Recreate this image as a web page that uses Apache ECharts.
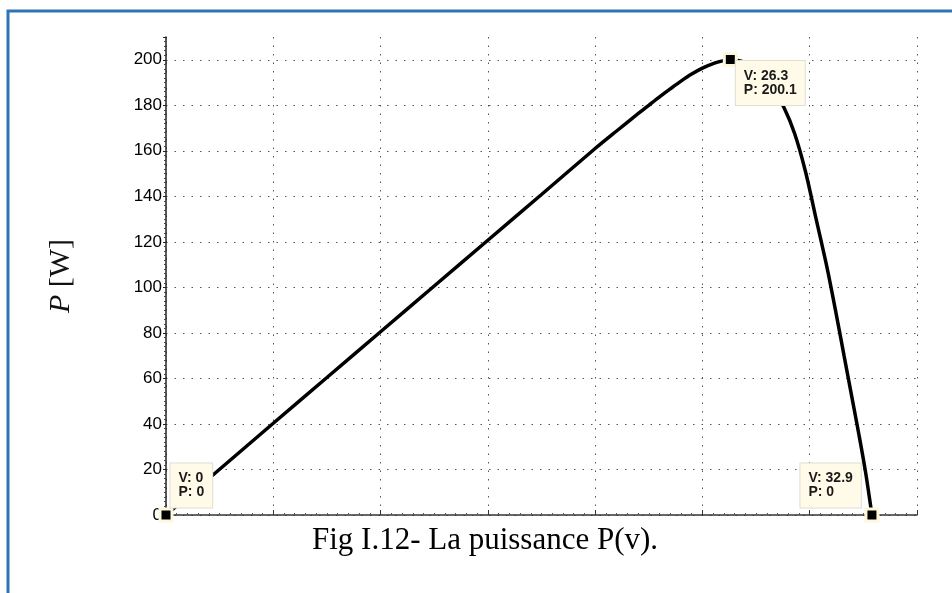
<!DOCTYPE html>
<html>
<head>
<meta charset="utf-8">
<title>Fig I.12 - La puissance P(v)</title>
<script src="https://cdn.jsdelivr.net/npm/echarts@6/dist/echarts.min.js"></script>
<style>
  html, body { margin: 0; padding: 0; background: #fff; }
  #chart { width: 952px; height: 593px; }
</style>
</head>
<body>
<div id="chart"></div>
<script>
// P-V curve
var voltage = [0, 2.5, 5, 7.5, 10, 12.5, 15, 17.5, 20, 21, 22, 22.5, 23, 23.5, 24, 24.5, 25, 25.5, 26, 26.3,
               26.8, 27.3, 27.8, 28.3, 28.8, 29.3, 29.8, 30.3, 30.8, 31.2, 31.6, 32, 32.3, 32.6, 32.9];
var power   = [0, 20.1, 40.3, 60.4, 80.5, 100.6, 120.7, 140.8, 161, 168.7, 176.3, 180, 183.7, 187.2, 190.6, 193.7, 196.3, 198.3, 199.6, 200.1,
               199.4, 197.5, 193.5, 187, 179, 167.5, 151, 130, 109, 90, 70, 50, 35, 19, 0];

// data tips
var tipVoltage = [0, 26.3, 32.9];
var tipPower   = [0, 200.1, 0];
var tipOffset  = [[12, -44], [13, 9], [-64, -44]];

var yTicks = { min: 0, max: 210, step: 20 };
var xTicks = { min: 0, max: 35, step: 5 };

var curve = [];
for (var i = 0; i < voltage.length; i++) {
    curve.push([voltage[i], power[i]]);
}

var tips = [];
for (var j = 0; j < tipVoltage.length; j++) {
    tips.push({
        value: [tipVoltage[j], tipPower[j]],
        label: { position: tipOffset[j] }
    });
}

var dom = document.getElementById('chart');
var myChart = echarts.init(dom, null, { renderer: 'canvas' });

var option = {
    animation: false,
    backgroundColor: '#fff',
    grid: {
        left: 166,
        right: 35,
        top: 37,
        bottom: 78
    },
    xAxis: {
        type: 'value',
        min: xTicks.min,
        max: xTicks.max,
        interval: xTicks.step,
        axisLine: { show: true, onZero: false, lineStyle: { color: '#333', width: 1.5 } },
        axisTick: { show: true, inside: true, length: 5, lineStyle: { color: '#333' } },
        minorTick: { show: true, splitNumber: 10, length: 2, lineStyle: { color: '#555' } },
        axisLabel: { show: false },
        splitLine: { show: true, lineStyle: { color: '#555', type: [1.5, 7], width: 1 } }
    },
    yAxis: {
        type: 'value',
        min: yTicks.min,
        max: yTicks.max,
        interval: yTicks.step,
        name: '{i|P} [W]',
        nameLocation: 'middle',
        nameRotate: 90,
        nameGap: 90,
        nameTextStyle: {
            fontFamily: 'Liberation Serif',
            fontSize: 30,
            color: '#111',
            rich: {
                i: { fontFamily: 'Liberation Serif', fontStyle: 'italic', fontSize: 30, color: '#111' }
            }
        },
        axisLine: { show: true, onZero: false, lineStyle: { color: '#222', width: 1.5 } },
        axisTick: { show: true, inside: false, length: 3, lineStyle: { color: '#222' } },
        minorTick: { show: true, splitNumber: 10, length: 2, lineStyle: { color: '#444' } },
        axisLabel: {
            showMaxLabel: false,
            margin: 4,
            fontFamily: 'Liberation Sans',
            fontSize: 17,
            color: '#000'
        },
        splitLine: { show: true, showMaxLine: false, lineStyle: { color: '#555', type: [1.5, 7], width: 1 } }
    },
    graphic: [
        {
            type: 'polyline',
            silent: true,
            shape: { points: [[8, 593], [8, 11], [952, 11]] },
            style: { stroke: '#2e75b6', lineWidth: 3, fill: null }
        },
        {
            type: 'text',
            silent: true,
            x: 485,
            y: 541,
            style: {
                text: 'Fig I.12- La puissance P(v).',
                fontFamily: 'Liberation Serif',
                fontSize: 31,
                fill: '#000',
                align: 'center',
                verticalAlign: 'middle'
            }
        }
    ],
    series: [
        {
            name: 'P(V)',
            type: 'line',
            data: curve,
            smooth: 0.3,
            showSymbol: false,
            lineStyle: { color: '#000', width: 3.5 },
            z: 2
        },
        {
            name: 'tips',
            type: 'scatter',
            data: tips,
            symbol: 'rect',
            symbolSize: 12,
            itemStyle: { color: '#000', opacity: 1, borderColor: '#fdf8dc', borderWidth: 3 },
            label: {
                show: true,
                formatter: function (p) {
                    return 'V: ' + p.value[0] + '\nP: ' + p.value[1];
                },
                fontFamily: 'Liberation Sans',
                fontWeight: 'bold',
                fontSize: 14,
                lineHeight: 14,
                color: '#1a1a1a',
                opacity: 1,
                backgroundColor: '#fffbe8',
                borderColor: '#deded2',
                borderWidth: 1,
                padding: [8, 8, 8, 8]
            },
            z: 5
        }
    ]
};

myChart.setOption(option, true);
</script>
</body>
</html>
